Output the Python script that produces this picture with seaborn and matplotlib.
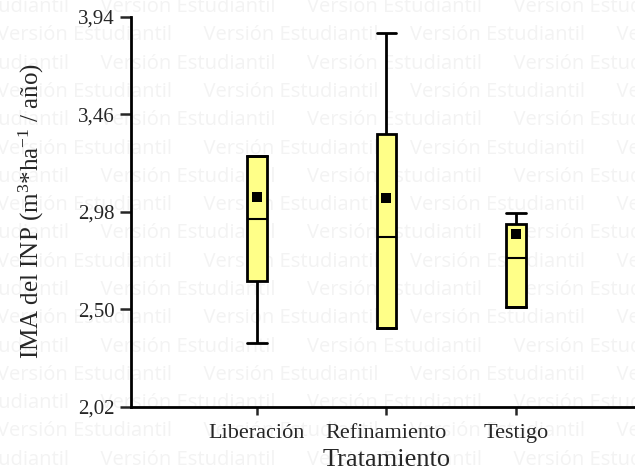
import numpy as np
import pandas as pd
import matplotlib
matplotlib.use("Agg")
import matplotlib.pyplot as plt
import seaborn as sns

# ---- data ----
categories = ["Liberación", "Refinamiento", "Testigo"]
mins = [2.335, 2.409, 2.512]
q1s = [2.640, 2.409, 2.512]
medians = [2.945, 2.857, 2.753]
q3s = [3.256, 3.364, 2.921]
maxs = [3.256, 3.861, 2.975]
means = [3.054, 3.049, 2.872]
yticks = [2.02, 2.50, 2.98, 3.46, 3.94]
ytick_labels = ["2,02", "2,50", "2,98", "3,46", "3,94"]

# five-number summaries -> table the boxplot can use
rows = []
for c, a, b, m, d, e in zip(categories, mins, q1s, medians, q3s, maxs):
    for v in (a, b, m, d, e):
        rows.append({"Tratamiento": c, "IMA": v})
df = pd.DataFrame(rows)
df_mean = pd.DataFrame({"Tratamiento": categories, "IMA": means})

sns.set_style("white")
plt.rcParams["font.family"] = ["Liberation Serif", "DejaVu Serif"]
plt.rcParams["mathtext.fontset"] = "custom"
plt.rcParams["mathtext.rm"] = "Liberation Serif"
plt.rcParams["mathtext.it"] = "Liberation Serif"

W, H = 635, 472
fig = plt.figure(figsize=(W / 100, H / 100), dpi=100)
fig.patch.set_facecolor("white")

# faint watermark, one text per row
wm_color = "#f3f3f3"
row_h = 28.3
unit = "Versión Estudiantil      "
for r in range(17):
    y = 7 + r * row_h
    x0 = -106 if r % 2 == 0 else -3
    fig.text(x0 / W, 1 - y / H, unit * 4, color=wm_color,
             fontsize=14.5, family=["Open Sans", "DejaVu Sans"],
             ha="left", va="center", zorder=-5)

ax = fig.add_axes([131 / W, 65 / H, 1 - 131 / W, 390 / H])
ax.patch.set_alpha(0)

sns.boxplot(data=df, x="Tratamiento", y="IMA", ax=ax, whis=(0, 100),
            width=0.15, color="#FFFF88", saturation=1, linecolor="black",
            linewidth=2.0, showfliers=False, capwidths=0.15,
            medianprops={"linewidth": 1.5})
sns.stripplot(data=df_mean, x="Tratamiento", y="IMA", ax=ax, jitter=False,
              marker="s", color="black", size=7, zorder=5)

ax.set_xlim(-0.973, 2.919)
ax.set_ylim(2.02, 3.94)
ax.set_yticks(yticks)
ax.set_yticklabels(ytick_labels, fontsize=15)
ax.set_xticks(range(len(categories)))
ax.set_xticklabels(categories, fontsize=16)

for s in ["top", "right"]:
    ax.spines[s].set_visible(False)
for s in ["left", "bottom"]:
    ax.spines[s].set_linewidth(2.0)
    ax.spines[s].set_color("black")
ax.tick_params(axis="y", direction="out", length=8, width=1.8, pad=4, left=True)
ax.tick_params(axis="x", direction="out", length=6, width=1.8, pad=6, bottom=True)

ax.set_ylabel(r"IMA del INP (m$^3$*ha$^{\mathregular{-1}}$ / año)", fontsize=18, va="center")
ax.set_xlabel("Tratamiento", fontsize=19, va="center")
ax.yaxis.set_label_coords(-0.198, 0.503)
ax.xaxis.set_label_coords(0.508, -0.136)

fig.savefig("out.png", dpi=100)
